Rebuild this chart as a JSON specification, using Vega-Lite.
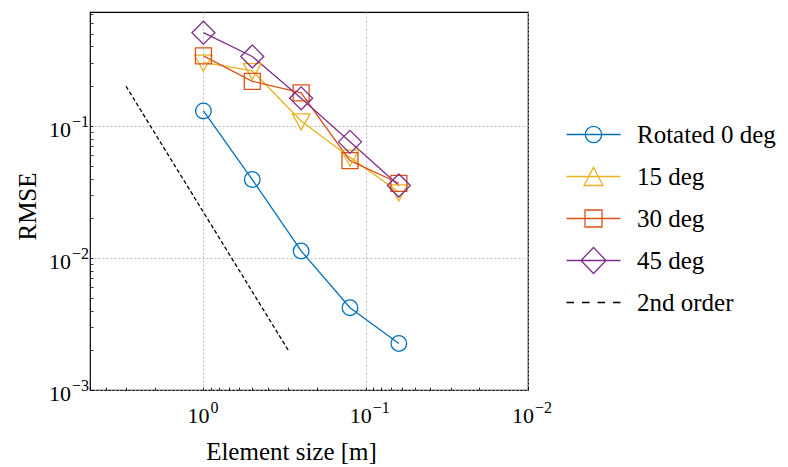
{
  "$schema": "https://vega.github.io/schema/vega-lite/v6.json",
  "width": 438,
  "height": 378,
  "autosize": "none",
  "padding": {"left": 90, "top": 12, "right": 260, "bottom": 77},
  "background": "white",
  "config": {
    "font": "Liberation Serif",
    "view": {"stroke": "black", "strokeWidth": 1.2},
    "axis": {
      "domain": false,
      "grid": true,
      "gridColor": "#b0b0b0",
      "gridDash": [2, 2],
      "gridWidth": 0.8,
      "tickColor": "black",
      "tickWidth": 0.8,
      "tickSize": -3,
      "labelFont": "Liberation Serif",
      "labelFontSize": 22,
      "labelColor": "black",
      "labelFlush": false,
      "labelOverlap": false,
      "titleFont": "Liberation Serif",
      "titleFontSize": 25,
      "titleFontWeight": "normal",
      "titleColor": "black"
    },
    "legend": {
      "labelFont": "Liberation Serif",
      "labelFontSize": 25,
      "labelColor": "black"
    }
  },
  "datasets": {
    "rmse": [
      {"series": "Rotated 0 deg", "size": 1, "rmse": 0.13},
      {"series": "Rotated 0 deg", "size": 0.5, "rmse": 0.0393},
      {"series": "Rotated 0 deg", "size": 0.25, "rmse": 0.0113},
      {"series": "Rotated 0 deg", "size": 0.125, "rmse": 0.0042},
      {"series": "Rotated 0 deg", "size": 0.0625, "rmse": 0.00225},
      {"series": "15 deg", "size": 1, "rmse": 0.303},
      {"series": "15 deg", "size": 0.5, "rmse": 0.262},
      {"series": "15 deg", "size": 0.25, "rmse": 0.109},
      {"series": "15 deg", "size": 0.125, "rmse": 0.0578},
      {"series": "15 deg", "size": 0.0625, "rmse": 0.0316},
      {"series": "30 deg", "size": 1, "rmse": 0.34},
      {"series": "30 deg", "size": 0.5, "rmse": 0.218},
      {"series": "30 deg", "size": 0.25, "rmse": 0.178},
      {"series": "30 deg", "size": 0.125, "rmse": 0.0546},
      {"series": "30 deg", "size": 0.0625, "rmse": 0.0368},
      {"series": "45 deg", "size": 1, "rmse": 0.509},
      {"series": "45 deg", "size": 0.5, "rmse": 0.336},
      {"series": "45 deg", "size": 0.25, "rmse": 0.162},
      {"series": "45 deg", "size": 0.125, "rmse": 0.0758},
      {"series": "45 deg", "size": 0.0625, "rmse": 0.0354},
      {"series": "2nd order", "size": 3, "rmse": 0.2},
      {"series": "2nd order", "size": 0.3, "rmse": 0.002}
    ],
    "xticks": [
      {"size": 1, "rmse": 0.001, "base": "10", "exp": "0"},
      {"size": 0.1, "rmse": 0.001, "base": "10", "exp": "−1"},
      {"size": 0.01, "rmse": 0.001, "base": "10", "exp": "−2"}
    ],
    "yticks": [
      {"size": 5, "rmse": 0.1, "base": "10", "exp": "−1"},
      {"size": 5, "rmse": 0.01, "base": "10", "exp": "−2"},
      {"size": 5, "rmse": 0.001, "base": "10", "exp": "−3"}
    ]
  },
  "data": {"name": "rmse"},
  "encoding": {
    "x": {
      "field": "size",
      "type": "quantitative",
      "scale": {"type": "log", "domain": [0.01, 5], "reverse": true, "nice": false},
      "axis": {
        "values": [5, 4, 3, 2, 1, 0.9, 0.8, 0.7, 0.6, 0.5, 0.4, 0.3, 0.2, 0.1, 0.09, 0.08, 0.07, 0.06, 0.05, 0.04, 0.03, 0.02, 0.01],
        "labelExpr": "''",
        "gridOpacity": {"condition": {"test": "datum.value == 1 || datum.value == 0.1 || datum.value == 0.01", "value": 1}, "value": 0},
        "title": "Element size [m]",
        "titleX": 201,
        "titleY": 69,
        "titleAlign": "center",
        "titleBaseline": "alphabetic"
      }
    },
    "y": {
      "field": "rmse",
      "type": "quantitative",
      "scale": {"type": "log", "domain": [0.001, 0.73], "nice": false},
      "axis": {
        "values": [0.001, 0.002, 0.003, 0.004, 0.005, 0.006, 0.007, 0.008, 0.009, 0.01, 0.02, 0.03, 0.04, 0.05, 0.06, 0.07, 0.08, 0.09, 0.1, 0.2, 0.3, 0.4, 0.5, 0.6, 0.7],
        "labelExpr": "''",
        "gridOpacity": {"condition": {"test": "datum.value == 0.1 || datum.value == 0.01 || datum.value == 0.001", "value": 1}, "value": 0},
        "title": "RMSE",
        "titleAngle": -90,
        "titleX": -63,
        "titleY": 194,
        "titleAlign": "center",
        "titleBaseline": "middle"
      }
    }
  },
  "layer": [
    {
      "transform": [{"filter": "datum.series != '2nd order'"}],
      "mark": {"type": "line", "strokeWidth": 1.3},
      "encoding": {
        "color": {
          "field": "series",
          "type": "nominal",
          "scale": {
            "domain": ["Rotated 0 deg", "15 deg", "30 deg", "45 deg", "2nd order"],
            "range": ["#0072BD", "#EDB120", "#D95319", "#7E2F8E", "#000000"]
          },
          "legend": null
        }
      }
    },
    {
      "transform": [{"filter": "datum.series == '2nd order'"}],
      "mark": {"type": "line", "strokeWidth": 1.3, "strokeDash": [4, 2.5], "color": "black"},
      "encoding": {}
    },
    {
      "transform": [{"filter": "datum.series != '2nd order'"}],
      "mark": {"type": "point", "filled": false, "size": 400, "strokeWidth": 1.3, "opacity": 1},
      "encoding": {
        "color": {"field": "series", "type": "nominal", "legend": null},
        "shape": {
          "field": "series",
          "type": "nominal",
          "scale": {
            "domain": ["Rotated 0 deg", "15 deg", "30 deg", "45 deg", "2nd order"],
            "range": [
              "M-0.78,0A0.78,0.78,0,1,1,0.78,0A0.78,0.78,0,1,1,-0.78,0Z",
              "M-0.88,-0.72L0.88,-0.72L0,0.88Z",
              "M-0.8,-0.8H0.8V0.8H-0.8Z",
              "M-1.15,0L0,-1.15L1.15,0L0,1.15Z",
              "M0,0"
            ]
          },
          "legend": null
        }
      }
    },
    {
      "data": {"name": "xticks"},
      "mark": {"type": "text", "font": "Liberation Serif", "fontSize": 22, "align": "right", "baseline": "alphabetic", "dx": 6, "dy": 33, "color": "black"},
      "encoding": {"text": {"field": "base"}}
    },
    {
      "data": {"name": "xticks"},
      "mark": {"type": "text", "font": "Liberation Serif", "fontSize": 16, "align": "left", "baseline": "alphabetic", "dx": 7, "dy": 23, "color": "black"},
      "encoding": {"text": {"field": "exp"}}
    },
    {
      "data": {"name": "yticks"},
      "mark": {"type": "text", "font": "Liberation Serif", "fontSize": 22, "align": "right", "baseline": "alphabetic", "dx": -19, "dy": 11, "color": "black"},
      "encoding": {"text": {"field": "base"}}
    },
    {
      "data": {"name": "yticks"},
      "mark": {"type": "text", "font": "Liberation Serif", "fontSize": 16, "align": "left", "baseline": "alphabetic", "dx": -18, "dy": 1, "color": "black"},
      "encoding": {"text": {"field": "exp"}}
    },
    {
      "transform": [{"filter": "false"}],
      "mark": {"type": "point", "filled": false, "size": 400, "strokeWidth": 1.3, "opacity": 1},
      "encoding": {
        "color": {
          "field": "series",
          "type": "nominal",
          "legend": {
            "orient": "none",
            "legendX": 491,
            "legendY": 110,
            "title": null,
            "padding": 0,
            "symbolSize": 400,
            "symbolStrokeWidth": 1.3,
            "labelOffset": 31,
            "labelFont": "Liberation Serif",
            "labelFontSize": 25,
            "gridAlign": "all",
            "rowPadding": 9
          }
        },
        "shape": {
          "field": "series",
          "type": "nominal",
          "scale": {
            "domain": ["Rotated 0 deg", "15 deg", "30 deg", "45 deg", "2nd order"],
            "range": [
              "M-2.7,0H2.7M-0.82,0A0.82,0.82,0,1,1,0.82,0A0.82,0.82,0,1,1,-0.82,0Z",
              "M-2.7,0H2.7M0,-0.9L0.95,0.9L-0.95,0.9Z",
              "M-2.7,0H2.7M-0.85,-0.85H0.85V0.85H-0.85Z",
              "M-2.7,0H2.7M-1.25,0L0,-1.3L1.25,0L0,1.3Z",
              "M-2.7,0H-1.95M-1.15,0H-0.4M0.4,0H1.15M1.95,0H2.7"
            ]
          },
          "legend": {
            "orient": "none",
            "legendX": 491,
            "legendY": 110,
            "title": null,
            "padding": 0,
            "symbolSize": 400,
            "symbolStrokeWidth": 1.3,
            "labelOffset": 31,
            "labelFont": "Liberation Serif",
            "labelFontSize": 25,
            "gridAlign": "all",
            "rowPadding": 9,
            "symbolStrokeColor": {"expr": "scale('color', datum.value)"}
          }
        }
      }
    }
  ],
  "resolve": {"scale": {"shape": "independent"}}
}
